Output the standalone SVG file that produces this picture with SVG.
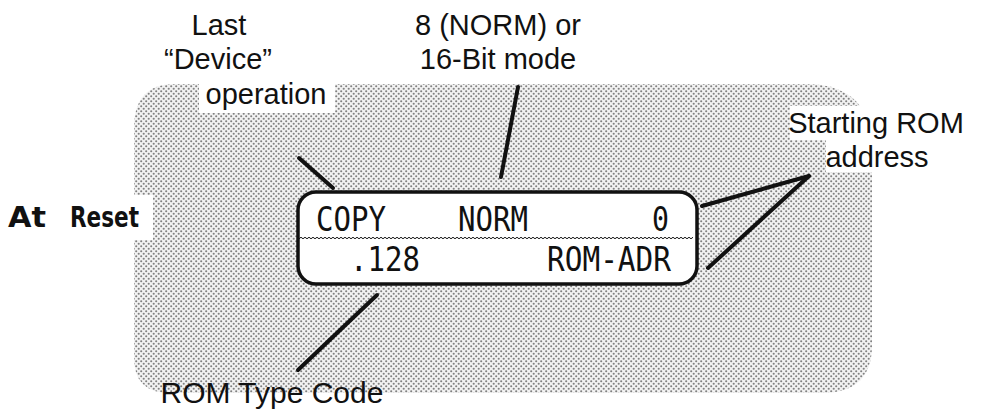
<svg xmlns="http://www.w3.org/2000/svg" width="989" height="415" viewBox="0 0 989 415">
<style>
.lbl{font-family:"Liberation Sans",Arial,sans-serif;font-size:29px;fill:#111;text-anchor:middle}
.lcd{font-family:"DejaVu Sans Mono",monospace;font-size:33px;fill:#111}
.bold{font-family:"DejaVu Sans",sans-serif;font-weight:bold;font-size:29px;fill:#111}
.conn line{stroke:#111;stroke-width:4;stroke-linecap:round}
</style>
<defs>
<pattern id="dots" width="5" height="5" patternUnits="userSpaceOnUse">
<rect width="5" height="5" fill="#f2f2f2"/>
<circle cx="1.2" cy="1.2" r="1.05" fill="#808080"/>
<circle cx="3.7" cy="3.7" r="1.05" fill="#808080"/>
</pattern>
<pattern id="wave" width="4" height="4" patternUnits="userSpaceOnUse">
<path d="M0,2 Q1,0.5 2,2 T4,2" fill="none" stroke="#111" stroke-width="1"/>
</pattern>
</defs>
<rect width="989" height="415" fill="#fff"/>
<g id="background">
<path d="M175,84 L805,84 Q872,84 872,150 L872,345 Q872,393 822,393 L170,393 Q134,393 134,358 L134,128 Q134,84 175,84 Z" fill="url(#dots)"/>
<rect x="199" y="82" width="136" height="31" fill="#fff"/>
<rect x="790" y="106" width="172" height="34" fill="#fff"/>
<rect x="826" y="140" width="102" height="32" fill="#fff"/>
<rect x="0" y="195" width="153" height="45" fill="#fff"/>
</g>
<g id="at-reset">
<text class="bold" x="8" y="227" textLength="38" lengthAdjust="spacingAndGlyphs">At</text>
<text class="bold" x="70" y="227" textLength="69" lengthAdjust="spacingAndGlyphs">Reset</text>
</g>
<g id="display">
<rect x="298" y="192" width="399" height="92" rx="18" ry="18" fill="#fff" stroke="#111" stroke-width="3.5"/>
<rect x="299" y="236" width="394" height="4" fill="url(#wave)"/>
<text class="lcd" x="316" y="231" textLength="70" lengthAdjust="spacingAndGlyphs">COPY</text>
<text class="lcd" x="458" y="231" textLength="70" lengthAdjust="spacingAndGlyphs">NORM</text>
<text class="lcd" x="652" y="231" textLength="17" lengthAdjust="spacingAndGlyphs">0</text>
<text class="lcd" x="350" y="271" textLength="70" lengthAdjust="spacingAndGlyphs">.128</text>
<text class="lcd" x="547" y="271" textLength="124" lengthAdjust="spacingAndGlyphs">ROM-ADR</text>
</g>
<g id="label-device">
<text class="lbl" x="219" y="35">Last</text>
<text class="lbl" x="218" y="69">“Device”</text>
<text class="lbl" x="266" y="104">operation</text>
</g>
<g id="label-mode">
<text class="lbl" x="498" y="35">8 (NORM) or</text>
<text class="lbl" x="498" y="69">16-Bit mode</text>
</g>
<g id="label-rom">
<text class="lbl" x="876" y="133">Starting ROM</text>
<text class="lbl" x="877" y="167">address</text>
</g>
<g id="label-type">
<text class="lbl" x="272" y="403" style="font-size:30px">ROM Type Code</text>
</g>
<g class="conn" id="connectors">
<line x1="299" y1="158" x2="333" y2="188"/>
<line x1="518" y1="87" x2="501" y2="177"/>
<line x1="809" y1="176" x2="702" y2="206"/>
<line x1="809" y1="176" x2="708" y2="268"/>
<line x1="377" y1="295" x2="298" y2="370"/>
</g>
</svg>
